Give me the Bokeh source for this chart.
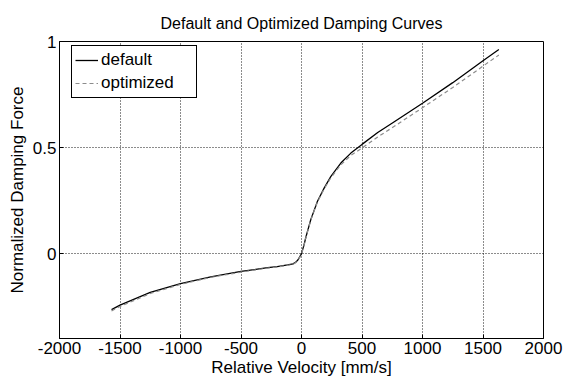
from bokeh.plotting import figure
from bokeh.models import Range1d, FixedTicker, Legend, LegendItem
from bokeh.embed import file_html
from bokeh.resources import INLINE

# ---- data ----
velocity = [-1570, -1500, -1250, -1000, -750, -500, -280, -200, -115, -70, -47, -30, -12,
            0, 10, 22, 35, 50, 77, 100, 132, 187, 243, 325, 408, 500, 630, 767, 1000,
            1250, 1500, 1631]
default_force = [-0.264, -0.243, -0.183, -0.141, -0.109, -0.084, -0.066, -0.061, -0.053,
                 -0.048, -0.040, -0.030, -0.013, 0.000, 0.020, 0.044, 0.075, 0.106, 0.161,
                 0.197, 0.247, 0.309, 0.364, 0.427, 0.474, 0.515, 0.571, 0.622, 0.709,
                 0.806, 0.909, 0.962]
optimized_force = [-0.270, -0.249, -0.188, -0.145, -0.112, -0.087, -0.068, -0.063, -0.055,
                   -0.050, -0.042, -0.032, -0.015, -0.002, 0.018, 0.042, 0.073, 0.104, 0.159,
                   0.195, 0.244, 0.305, 0.358, 0.419, 0.463, 0.498, 0.550, 0.600, 0.688,
                   0.783, 0.884, 0.936]

x_ticks = [-2000, -1500, -1000, -500, 0, 500, 1000, 1500, 2000]
x_tick_labels = ["-2000", "-1500", "-1000", "-500", "0", "500", "1000", "1500", "2000"]
y_ticks = [0, 0.5, 1]
y_tick_labels = ["0", "0.5", "1"]

title_text = "Default and Optimized Damping Curves"
x_label = "Relative Velocity [mm/s]"
y_label = "Normalized Damping Force"
series_names = ["default", "optimized"]

FONT = "Liberation Sans"

p = figure(width=564, height=383, output_backend="svg", toolbar_location=None,
           x_range=Range1d(-2000, 2000), y_range=Range1d(-0.4, 1),
           min_border_left=59, min_border_right=21, min_border_top=41, min_border_bottom=45,
           title=title_text, x_axis_label=x_label, y_axis_label=y_label)
p.background_fill_color = "white"
p.border_fill_color = "white"
p.outline_line_color = "black"
p.outline_line_width = 1

p.title.text_font = FONT
p.title.text_font_size = "16px"
p.title.text_font_style = "normal"
p.title.align = "center"
p.title.text_color = "black"
p.title.standoff = 20

for ax in [p.xaxis[0], p.yaxis[0]]:
    ax.axis_label_text_font = FONT
    ax.axis_label_text_font_size = "17px"
    ax.axis_label_text_font_style = "normal"
    ax.axis_label_text_color = "black"
    ax.major_label_text_font = FONT
    ax.major_label_text_font_size = "17px"
    ax.major_label_text_color = "black"
    ax.axis_line_color = "black"
    ax.major_tick_line_color = "black"
    ax.major_tick_in = 4
    ax.major_tick_out = 0
    ax.minor_tick_line_color = None

p.xaxis[0].ticker = FixedTicker(ticks=x_ticks)
p.yaxis[0].ticker = FixedTicker(ticks=y_ticks)
p.xaxis[0].major_label_overrides = {t: s for t, s in zip(x_ticks, x_tick_labels)}
p.yaxis[0].major_label_overrides = {t: s for t, s in zip(y_ticks, y_tick_labels)}
p.xaxis[0].major_label_standoff = 3
p.yaxis[0].major_label_standoff = 3
p.xaxis[0].axis_label_standoff = 1
p.yaxis[0].axis_label_standoff = 3

p.xgrid.ticker = FixedTicker(ticks=x_ticks)
p.ygrid.ticker = FixedTicker(ticks=y_ticks)
for g in [p.xgrid[0], p.ygrid[0]]:
    g.grid_line_color = "black"
    g.grid_line_dash = "1 2"
    g.grid_line_width = 1
    g.grid_line_alpha = 0.9

r_def = p.line(velocity, default_force, line_color="black", line_width=1.3)
r_opt = p.line(velocity, optimized_force, line_color="#8c8c8c", line_width=1.2,
               line_dash="4 3")

legend = Legend(items=[LegendItem(label=series_names[0], renderers=[r_def]),
                       LegendItem(label=series_names[1], renderers=[r_opt])],
                location=(12, 240))
legend.label_text_font = FONT
legend.label_text_font_size = "17px"
legend.label_text_color = "black"
legend.border_line_color = "black"
legend.border_line_width = 1
legend.border_line_alpha = 1
legend.background_fill_color = "white"
legend.background_fill_alpha = 1
legend.padding = 3
legend.spacing = 1
legend.margin = 0
legend.glyph_width = 23
legend.glyph_height = 22
legend.label_height = 22
legend.label_width = 92
legend.label_standoff = 3
p.add_layout(legend, "center")

open("out.html", "w").write(file_html(p, INLINE))
